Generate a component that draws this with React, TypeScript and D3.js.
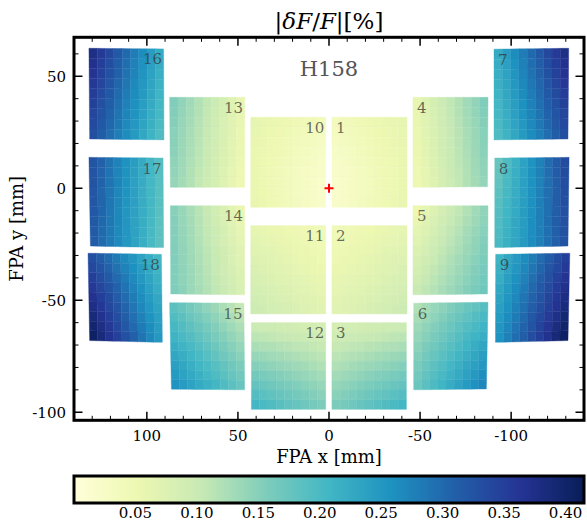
import React from 'react';
import * as d3 from 'd3';

const W = 587;
const H = 523;

const xTicks = [100, 50, 0, -50, -100];
const yTicks = [50, 0, -50, -100];
const cbTicks = [0.05, 0.1, 0.15, 0.2, 0.25, 0.3, 0.35, 0.4];
const ylgnbu = ['#ffffd9', '#edf8b1', '#c7e9b4', '#7fcdbb', '#41b6c4', '#1d91c0', '#225ea8', '#253494', '#081d58'];

// detector ids and corners in FPA mm: [TL, TR, BR, BL] as seen in the plot
const detIds = [16, 13, 17, 18, 14, 15, 10, 11, 12, 1, 2, 3, 4, 7, 8, 5, 9, 6];
const detCorners = [
  [[131.8, 62.5], [90.8, 62.2], [90.6, 21.6], [131.4, 22.0]],
  [[87.5, 40.6], [46.3, 40.6], [46.3, 0.4], [87.1, 0.4]],
  [[131.8, 13.8], [91.1, 13.5], [90.8, -26.5], [131.0, -25.8]],
  [[132.3, -29.0], [92.0, -29.5], [91.5, -68.8], [131.4, -68.0]],
  [[87.1, -7.8], [46.3, -7.8], [46.3, -47.6], [86.9, -47.2]],
  [[87.5, -51.1], [46.7, -51.3], [46.3, -90.0], [86.5, -89.7]],
  [[43.0, 31.7], [1.8, 31.7], [1.8, -8.5], [43.0, -8.5]],
  [[43.0, -16.7], [1.8, -16.7], [1.8, -56.1], [43.0, -56.1]],
  [[42.6, -60.0], [1.8, -60.0], [1.8, -98.7], [42.6, -98.7]],
  [[-1.6, 31.7], [-42.8, 31.7], [-42.8, -8.5], [-1.6, -8.5]],
  [[-1.6, -16.7], [-42.8, -16.7], [-42.8, -56.1], [-1.6, -56.1]],
  [[-1.6, -60.0], [-42.5, -60.0], [-42.5, -98.7], [-1.6, -98.7]],
  [[-46.1, 40.6], [-87.3, 40.6], [-87.0, 0.7], [-46.1, 0.4]],
  [[-90.6, 62.1], [-131.6, 62.5], [-131.2, 22.0], [-90.6, 21.6]],
  [[-91.0, 13.5], [-131.8, 13.8], [-131.2, -25.8], [-91.0, -26.5]],
  [[-46.1, -7.8], [-87.3, -7.8], [-87.0, -47.2], [-46.1, -47.6]],
  [[-91.5, -29.5], [-132.2, -29.0], [-131.2, -68.0], [-91.4, -68.8]],
  [[-46.5, -51.3], [-87.3, -50.9], [-86.4, -89.6], [-46.5, -90.0]],
];

// |dF/F| per pixel cell, in units of 0.001 %, rows top->bottom, cols left->right
const sca16 = [
  [375, 356, 338, 319, 300, 281, 263, 244, 225],
  [369, 350, 332, 313, 295, 276, 258, 239, 221],
  [364, 346, 327, 309, 291, 273, 254, 236, 218],
  [358, 340, 322, 304, 286, 268, 250, 232, 214],
  [352, 334, 317, 299, 281, 263, 246, 228, 210],
  [347, 329, 312, 294, 276, 259, 241, 224, 206],
  [341, 324, 306, 289, 272, 255, 238, 220, 203],
  [336, 319, 302, 285, 268, 250, 233, 216, 199],
  [330, 313, 296, 279, 263, 246, 229, 212, 195],
];
const sca13 = [
  [155, 143, 131, 119, 108, 96, 84, 72, 60],
  [153, 141, 130, 118, 106, 94, 83, 71, 59],
  [151, 139, 128, 116, 105, 93, 81, 70, 58],
  [149, 137, 126, 114, 103, 91, 79, 68, 56],
  [148, 136, 125, 113, 102, 90, 78, 67, 55],
  [146, 135, 123, 112, 100, 89, 77, 66, 54],
  [144, 133, 121, 110, 99, 87, 76, 64, 53],
  [142, 131, 119, 108, 97, 85, 74, 62, 51],
  [140, 129, 118, 106, 95, 84, 73, 61, 50],
];
const sca17 = [
  [325, 308, 291, 274, 258, 241, 224, 207, 190],
  [324, 307, 290, 273, 257, 240, 223, 206, 189],
  [323, 306, 289, 273, 256, 239, 223, 206, 189],
  [321, 304, 288, 271, 255, 238, 221, 205, 188],
  [320, 304, 287, 271, 254, 238, 221, 205, 188],
  [319, 303, 286, 270, 253, 237, 220, 204, 187],
  [318, 302, 285, 269, 252, 236, 219, 203, 186],
  [316, 300, 284, 267, 251, 235, 219, 202, 186],
  [315, 299, 283, 266, 250, 234, 218, 201, 185],
];
const sca18 = [
  [330, 314, 299, 283, 268, 252, 236, 221, 205],
  [339, 323, 307, 291, 275, 259, 243, 227, 211],
  [349, 332, 316, 299, 283, 266, 249, 233, 216],
  [358, 341, 324, 307, 290, 273, 256, 239, 222],
  [368, 350, 333, 315, 298, 280, 263, 245, 228],
  [377, 359, 341, 323, 305, 287, 269, 251, 233],
  [386, 368, 349, 331, 313, 294, 276, 257, 239],
  [396, 377, 358, 339, 320, 301, 282, 263, 244],
  [405, 386, 366, 347, 328, 308, 289, 269, 250],
];
const sca14 = [
  [150, 138, 126, 114, 103, 91, 79, 67, 55],
  [151, 139, 128, 116, 105, 93, 81, 70, 58],
  [151, 140, 129, 117, 106, 95, 84, 72, 61],
  [152, 141, 130, 119, 108, 97, 86, 75, 64],
  [153, 142, 132, 121, 111, 100, 89, 79, 68],
  [153, 143, 133, 122, 112, 102, 92, 81, 71],
  [154, 144, 134, 124, 114, 104, 94, 84, 74],
  [154, 144, 135, 125, 116, 106, 96, 87, 77],
  [155, 146, 136, 127, 118, 108, 99, 89, 80],
];
const sca15 = [
  [185, 175, 165, 155, 145, 135, 125, 115, 105],
  [194, 184, 174, 164, 154, 144, 134, 124, 114],
  [203, 193, 183, 173, 163, 153, 143, 133, 123],
  [211, 201, 191, 181, 171, 161, 151, 141, 131],
  [220, 210, 200, 190, 180, 170, 160, 150, 140],
  [229, 219, 209, 199, 189, 179, 169, 159, 149],
  [238, 228, 218, 208, 198, 188, 178, 168, 158],
  [246, 236, 226, 216, 206, 196, 186, 176, 166],
  [255, 245, 235, 225, 215, 205, 195, 185, 175],
];
const sca10 = [
  [62, 59, 56, 53, 50, 47, 44, 41, 38],
  [60, 57, 53, 50, 46, 43, 40, 36, 33],
  [58, 54, 51, 47, 44, 40, 36, 33, 29],
  [57, 53, 49, 45, 41, 37, 33, 29, 25],
  [56, 52, 48, 43, 39, 35, 31, 26, 22],
  [56, 51, 47, 42, 38, 33, 28, 24, 19],
  [56, 51, 47, 42, 37, 32, 28, 23, 18],
  [57, 52, 47, 42, 38, 33, 28, 23, 18],
  [58, 53, 48, 43, 39, 34, 29, 24, 19],
];
const sca11 = [
  [62, 60, 57, 55, 52, 50, 47, 45, 42],
  [66, 63, 61, 58, 56, 53, 50, 48, 45],
  [70, 67, 65, 62, 59, 56, 54, 51, 48],
  [74, 71, 68, 65, 63, 60, 57, 54, 51],
  [78, 75, 72, 69, 66, 63, 60, 57, 54],
  [82, 79, 76, 73, 70, 67, 64, 61, 58],
  [86, 83, 80, 77, 74, 70, 67, 64, 61],
  [90, 87, 84, 81, 78, 74, 71, 68, 65],
  [95, 92, 88, 85, 82, 78, 75, 71, 68],
];
const sca12 = [
  [98, 96, 95, 93, 92, 90, 88, 87, 85],
  [112, 110, 107, 105, 103, 101, 98, 96, 94],
  [125, 122, 120, 117, 114, 111, 109, 106, 103],
  [139, 136, 132, 129, 126, 122, 119, 115, 112],
  [152, 148, 144, 140, 137, 133, 129, 125, 121],
  [165, 161, 156, 152, 148, 143, 139, 134, 130],
  [178, 173, 168, 163, 159, 154, 149, 144, 139],
  [192, 186, 181, 175, 170, 164, 159, 153, 148],
  [205, 199, 193, 187, 181, 175, 169, 163, 157],
];
const sca1 = [
  [38, 41, 44, 47, 50, 53, 56, 59, 62],
  [33, 36, 40, 43, 46, 50, 53, 57, 60],
  [29, 33, 36, 40, 44, 47, 51, 54, 58],
  [25, 29, 33, 37, 41, 45, 49, 53, 57],
  [22, 26, 31, 35, 39, 43, 48, 52, 56],
  [19, 24, 28, 33, 38, 42, 47, 51, 56],
  [18, 23, 28, 32, 37, 42, 47, 51, 56],
  [18, 23, 28, 33, 38, 42, 47, 52, 57],
  [19, 24, 29, 34, 39, 43, 48, 53, 58],
];
const sca2 = [
  [42, 45, 47, 50, 52, 55, 57, 60, 62],
  [45, 48, 50, 53, 56, 58, 61, 63, 66],
  [48, 51, 54, 56, 59, 62, 65, 67, 70],
  [51, 54, 57, 60, 63, 65, 68, 71, 74],
  [54, 57, 60, 63, 66, 69, 72, 75, 78],
  [58, 61, 64, 67, 70, 73, 76, 79, 82],
  [61, 64, 67, 70, 74, 77, 80, 83, 86],
  [65, 68, 71, 74, 78, 81, 84, 87, 90],
  [68, 71, 75, 78, 82, 85, 88, 92, 95],
];
const sca3 = [
  [85, 87, 88, 90, 92, 93, 95, 96, 98],
  [94, 96, 98, 101, 103, 105, 107, 110, 112],
  [103, 106, 109, 111, 114, 117, 120, 122, 125],
  [112, 115, 119, 122, 126, 129, 132, 136, 139],
  [121, 125, 129, 133, 137, 140, 144, 148, 152],
  [130, 134, 139, 143, 148, 152, 156, 161, 165],
  [139, 144, 149, 154, 159, 163, 168, 173, 178],
  [148, 153, 159, 164, 170, 175, 181, 186, 192],
  [157, 163, 169, 175, 181, 187, 193, 199, 205],
];
const sca4 = [
  [60, 72, 84, 96, 108, 119, 131, 143, 155],
  [59, 71, 83, 94, 106, 118, 130, 141, 153],
  [58, 70, 81, 93, 105, 116, 128, 139, 151],
  [56, 68, 79, 91, 103, 114, 126, 137, 149],
  [55, 67, 78, 90, 102, 113, 125, 136, 148],
  [54, 66, 77, 89, 100, 112, 123, 135, 146],
  [53, 64, 76, 87, 99, 110, 121, 133, 144],
  [51, 62, 74, 85, 97, 108, 119, 131, 142],
  [50, 61, 73, 84, 95, 106, 118, 129, 140],
];
const sca7 = [
  [225, 244, 263, 281, 300, 319, 338, 356, 375],
  [221, 239, 258, 276, 295, 313, 332, 350, 369],
  [218, 236, 254, 273, 291, 309, 327, 346, 364],
  [214, 232, 250, 268, 286, 304, 322, 340, 358],
  [210, 228, 246, 263, 281, 299, 317, 334, 352],
  [206, 224, 241, 259, 276, 294, 312, 329, 347],
  [203, 220, 238, 255, 272, 289, 306, 324, 341],
  [199, 216, 233, 250, 268, 285, 302, 319, 336],
  [195, 212, 229, 246, 263, 279, 296, 313, 330],
];
const sca8 = [
  [175, 195, 215, 235, 255, 275, 295, 315, 335],
  [178, 198, 217, 237, 256, 276, 295, 315, 334],
  [181, 200, 219, 238, 257, 275, 294, 313, 332],
  [184, 202, 221, 239, 258, 276, 294, 313, 331],
  [188, 206, 223, 241, 259, 277, 294, 312, 330],
  [191, 208, 225, 243, 260, 277, 294, 312, 329],
  [194, 211, 228, 244, 261, 278, 295, 311, 328],
  [197, 213, 229, 245, 262, 278, 294, 310, 326],
  [200, 216, 231, 247, 263, 278, 294, 309, 325],
];
const sca5 = [
  [52, 63, 74, 86, 97, 108, 119, 131, 142],
  [58, 69, 80, 91, 102, 112, 123, 134, 145],
  [64, 75, 85, 96, 107, 117, 128, 138, 149],
  [70, 80, 91, 101, 111, 121, 132, 142, 152],
  [76, 86, 96, 106, 116, 125, 135, 145, 155],
  [82, 92, 101, 111, 120, 130, 139, 149, 158],
  [88, 97, 107, 116, 125, 134, 143, 153, 162],
  [94, 103, 112, 121, 130, 138, 147, 156, 165],
  [100, 109, 117, 126, 134, 143, 151, 160, 168],
];
const sca9 = [
  [210, 228, 245, 263, 280, 298, 315, 333, 350],
  [216, 234, 251, 269, 287, 304, 322, 339, 357],
  [222, 240, 258, 275, 293, 311, 329, 346, 364],
  [228, 246, 264, 282, 300, 317, 335, 353, 371],
  [234, 252, 270, 288, 306, 324, 342, 360, 378],
  [240, 258, 276, 294, 312, 330, 348, 366, 384],
  [246, 264, 282, 300, 319, 337, 355, 373, 391],
  [252, 270, 289, 307, 325, 343, 362, 380, 398],
  [258, 276, 295, 313, 331, 350, 368, 387, 405],
];
const sca6 = [
  [120, 129, 138, 146, 155, 164, 173, 181, 190],
  [127, 136, 145, 154, 164, 173, 182, 191, 200],
  [134, 144, 153, 163, 172, 182, 191, 201, 210],
  [140, 150, 160, 170, 180, 190, 200, 210, 220],
  [146, 157, 167, 178, 188, 199, 209, 220, 230],
  [153, 164, 175, 186, 197, 207, 218, 229, 240],
  [160, 171, 183, 194, 205, 216, 228, 239, 250],
  [166, 178, 190, 201, 213, 225, 237, 248, 260],
  [172, 184, 197, 209, 221, 233, 246, 258, 270],
];
const detValues = [sca16, sca13, sca17, sca18, sca14, sca15, sca10, sca11, sca12, sca1, sca2, sca3, sca4, sca7, sca8, sca5, sca9, sca6];

const FONT = "'DejaVu Serif', serif";

export default function App() {
  const left = 74, right = 584, top = 37.3, bottom = 420.3;
  const x = d3.scaleLinear().domain([140, -140]).range([left, right]);
  const y = d3.scaleLinear().domain([67.4, -103.6]).range([top, bottom]);
  const vmax = 0.415;
  const interp = d3.piecewise(d3.interpolateRgb, ylgnbu);
  const color = d3.scaleSequential(interp).domain([0, vmax]);
  const cb = d3.scaleLinear().domain([0, vmax]).range([left, right]);

  const cells: JSX.Element[] = [];
  const labels: JSX.Element[] = [];
  detIds.forEach((id, k) => {
    const c = detCorners[k].map(([mx, my]) => [x(mx), y(my)]);
    const vals = detValues[k];
    const nr = vals.length, nc = vals[0].length;
    const pt = (u: number, w: number) => {
      const px = c[0][0] * (1 - u) * (1 - w) + c[1][0] * u * (1 - w) + c[2][0] * u * w + c[3][0] * (1 - u) * w;
      const py = c[0][1] * (1 - u) * (1 - w) + c[1][1] * u * (1 - w) + c[2][1] * u * w + c[3][1] * (1 - u) * w;
      return [px, py];
    };
    for (let i = 0; i < nr; i++) {
      for (let j = 0; j < nc; j++) {
        const p = [pt(j / nc, i / nr), pt((j + 1) / nc, i / nr), pt((j + 1) / nc, (i + 1) / nr), pt(j / nc, (i + 1) / nr)];
        const col = color(vals[i][j] / 1000);
        cells.push(
          <polygon key={`c${id}-${i}-${j}`} points={p.map((q) => q.join(',')).join(' ')} fill={col} stroke={col} strokeWidth={0.4} />
        );
      }
    }
    const leftSide = detCorners[k][0][0] > 0;
    if (leftSide) {
      labels.push(
        <text key={`l${id}`} x={c[1][0] - 1.5} y={c[1][1] + 15.5} textAnchor="end" fontFamily={FONT} fontSize={15} fill="#333" fillOpacity={0.72}>{id}</text>
      );
    } else {
      labels.push(
        <text key={`l${id}`} x={c[0][0] + 4} y={c[0][1] + 15.5} textAnchor="start" fontFamily={FONT} fontSize={15} fill="#333" fillOpacity={0.72}>{id}</text>
      );
    }
  });

  const xMinor = d3.range(-130, 140, 10).filter((v) => v % 50 !== 0);
  const yMinor = d3.range(-100, 70, 10).filter((v) => v % 50 !== 0);
  const maj = 8.5, mnr = 4.5;

  const stops = d3.range(0, 1.0001, 1 / 64);

  return (
    <svg width={W} height={H} style={{ position: 'absolute', left: 0, top: 0, background: '#fff' }} xmlns="http://www.w3.org/2000/svg">
      <defs>
        <linearGradient id="cbgrad" x1="0" x2="1" y1="0" y2="0">
          {stops.map((s, i) => (
            <stop key={i} offset={s} stopColor={interp(s)} />
          ))}
        </linearGradient>
      </defs>
      <rect x={0} y={0} width={W} height={H} fill="#fff" />
      <g>{cells}</g>
      <g>{labels}</g>
      <g stroke="red" strokeWidth={2}>
        <line x1={x(0) - 4.5} x2={x(0) + 4.5} y1={y(0)} y2={y(0)} />
        <line x1={x(0)} x2={x(0)} y1={y(0) - 4.5} y2={y(0) + 4.5} />
      </g>
      <text x={x(0)} y={76} textAnchor="middle" fontFamily={FONT} fontSize={21} fill="#555">H158</text>
      {/* ticks */}
      <g stroke="#000">
        {xTicks.map((v) => (
          <g key={`xt${v}`} strokeWidth={1.5}>
            <line x1={x(v)} x2={x(v)} y1={bottom} y2={bottom - maj} />
            <line x1={x(v)} x2={x(v)} y1={top} y2={top + maj} />
          </g>
        ))}
        {xMinor.map((v) => (
          <g key={`xm${v}`} strokeWidth={1}>
            <line x1={x(v)} x2={x(v)} y1={bottom} y2={bottom - mnr} />
            <line x1={x(v)} x2={x(v)} y1={top} y2={top + mnr} />
          </g>
        ))}
        {yTicks.map((v) => (
          <g key={`yt${v}`} strokeWidth={1.5}>
            <line x1={left} x2={left + maj} y1={y(v)} y2={y(v)} />
            <line x1={right} x2={right - maj} y1={y(v)} y2={y(v)} />
          </g>
        ))}
        {yMinor.map((v) => (
          <g key={`ym${v}`} strokeWidth={1}>
            <line x1={left} x2={left + mnr} y1={y(v)} y2={y(v)} />
            <line x1={right} x2={right - mnr} y1={y(v)} y2={y(v)} />
          </g>
        ))}
      </g>
      <rect x={left} y={top} width={right - left} height={bottom - top} fill="none" stroke="#000" strokeWidth={3} />
      {xTicks.map((v) => (
        <text key={`xl${v}`} x={x(v)} y={441} textAnchor="middle" fontFamily={FONT} fontSize={15} fill="#000">{String(v)}</text>
      ))}
      {yTicks.map((v) => (
        <text key={`yl${v}`} x={66} y={y(v) + 5.5} textAnchor="end" fontFamily={FONT} fontSize={15} fill="#000">{String(v)}</text>
      ))}
      <text x={x(0)} y={463} textAnchor="middle" fontFamily={FONT} fontSize={18} fill="#000">FPA x [mm]</text>
      <text transform={`translate(23,${(top + bottom) / 2}) rotate(-90)`} textAnchor="middle" fontFamily={FONT} fontSize={18} fill="#000">FPA y [mm]</text>
      <text x={x(0)} y={29} textAnchor="middle" fontFamily={FONT} fontSize={23} fill="#000">
        |<tspan fontStyle="italic">δF</tspan>/<tspan fontStyle="italic">F</tspan>|[%]
      </text>
      {/* colorbar */}
      <rect x={left} y={476} width={right - left} height={27} fill="url(#cbgrad)" stroke="#000" strokeWidth={3} />
      {cbTicks.map((v) => (
        <text key={`cb${v}`} x={cb(v)} y={518} textAnchor="middle" fontFamily={FONT} fontSize={15} fill="#000">{v.toFixed(2)}</text>
      ))}
    </svg>
  );
}
